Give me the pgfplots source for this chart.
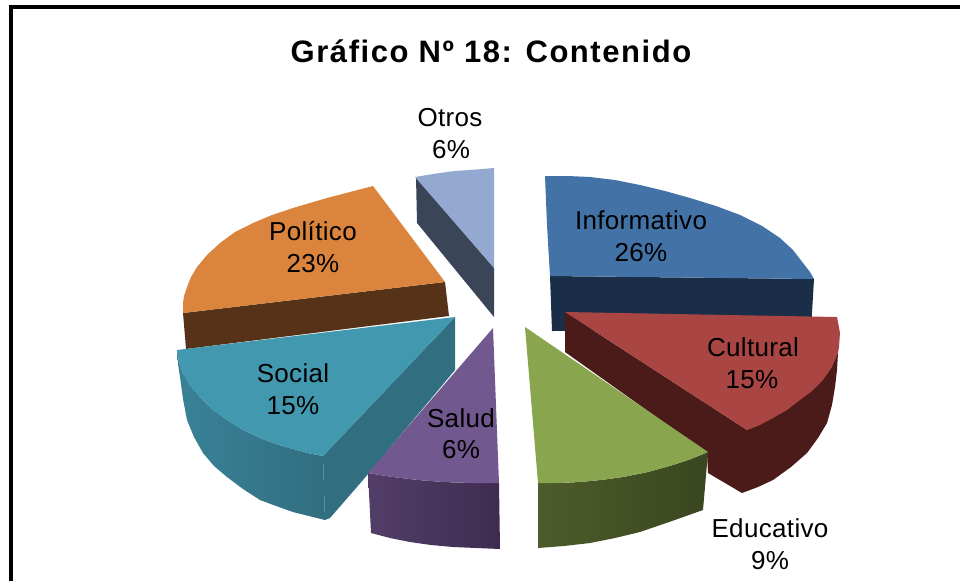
\documentclass[border=0pt]{standalone}
\usepackage{pgfplots}
\pgfplotsset{compat=1.18}
\usepackage{fontspec}
\setmainfont{Liberation Sans}
\newfontfamily\titlef[LetterSpace=5]{Liberation Sans}
\newfontfamily\labf[LetterSpace=1.3]{Liberation Sans}
\definecolor{infT}{HTML}{4272A6}\definecolor{infS}{HTML}{1B2E47}
\definecolor{culT}{HTML}{A94543}\definecolor{culS}{HTML}{4A1B19}
\definecolor{eduT}{HTML}{89A54E}\definecolor{eduL}{HTML}{4D5C2B}\definecolor{eduS}{HTML}{3A4620}
\definecolor{salT}{HTML}{71588F}\definecolor{salL}{HTML}{523E68}\definecolor{salS}{HTML}{3E2C50}
\definecolor{socT}{HTML}{4198AF}\definecolor{socL}{HTML}{3A8297}\definecolor{socS}{HTML}{316E80}
\definecolor{polT}{HTML}{DB843D}\definecolor{polS}{HTML}{563318}
\definecolor{otrT}{HTML}{93A9CF}\definecolor{otrS}{HTML}{3A4557}
\newcommand{\lab}{\labf\fontsize{26}{30}\selectfont}
\tikzset{lbl/.style={anchor=base,inner sep=0pt,text=black}}
\begin{document}
\begin{tikzpicture}
\useasboundingbox (0,0) rectangle (960pt,581pt);
\begin{axis}[
  at={(0,0)},anchor=south west,
  width=960pt,height=581pt,scale only axis,
  xmin=0,xmax=960,ymin=0,ymax=581,y dir=reverse,
  hide axis,
  every axis plot/.append style={draw=none,line width=0pt},
]
% Informativo
\addplot[fill=infS] coordinates {(550,276)(814,279)(811,330)(552,331)(550,276)};
\addplot[fill=infT] coordinates {(545,176)(568,176)(590,177)(615,180)(640,185)(665,191)(690,198)(716,206)(740,215)(762,226)(780,238)(793,250)(803,263)(810,272)(814,279)(550,276)(547,225)(545,176)};
% Cultural
\addplot[fill=culS] coordinates {(565,312)(565,352)(707,453)(708,473)(742,493)(758,487)(773,480)(791,467)(807,453)(818,438)(827,423)(832,405)(835,387)(837,370)(838,353)(747,430)(565,312)};
\addplot[fill=culT] coordinates {(565,312)(837,317)(840,333)(839,347)(838,353)(832,367)(823,380)(812,391)(800,400)(787,410)(773,418)(760,425)(747,430)(565,312)};
% Educativo
\addplot[left color=eduL,right color=eduS] coordinates {(538,483)(538,548)(564,546)(590,543)(615,538)(640,532)(672,521)(703,510)(708,452)(691,459)(673,465)(648,472)(623,477)(601,480)(580,482)(559,483)(538,483)};
\addplot[fill=eduT] coordinates {(525,327)(708,452)(691,459)(673,465)(648,472)(623,477)(601,480)(580,482)(559,483)(538,483)(525,327)};
% Otros
\addplot[fill=otrS] coordinates {(416,177)(417,223)(494,317)(494,268)(416,177)};
\addplot[fill=otrT] coordinates {(415,177)(427,175)(440,173)(455,171)(470,170)(482,169)(494,168)(494,268)(415,177)};
% Politico
\addplot[fill=polS] coordinates {(183,313)(445,282)(449,316)(186,349)(183,313)};
\addplot[fill=polT] coordinates {(373,186)(350,192)(327,198)(310,203)(293,208)(272,215)(253,223)(235,232)(220,243)(207,255)(197,267)(191,277)(187,287)(184,296)(183,303)(183,313)(445,282)(373,186)};
% Social
\addplot[fill=socS] coordinates {(323,456)(325,520)(330,518)(363,480)(455,370)(455,317)(323,456)};
\addplot[left color=socL,right color=socS] coordinates {(177,350)(178,364)(180,377)(183,399)(187,420)(194,437)(203,453)(214,466)(227,477)(243,489)(260,500)(276,506)(293,512)(309,516)(325,520)(323,456)(308,453)(293,449)(276,444)(260,438)(243,430)(227,420)(212,409)(200,397)(190,385)(183,373)(179,362)(177,350)};
\addplot[fill=socT] coordinates {(177,350)(455,317)(323,456)(308,453)(293,449)(276,444)(260,438)(243,430)(227,420)(212,409)(200,397)(190,385)(183,373)(179,362)(177,350)};
% Salud
\addplot[left color=salL,right color=salS] coordinates {(368,473)(371,533)(390,538)(410,542)(431,545)(453,547)(476,548)(500,549)(499,483)(471,483)(443,482)(418,480)(393,477)(380,475)(368,473)};
\addplot[fill=salT] coordinates {(493,328)(368,473)(380,475)(393,477)(418,480)(443,482)(471,483)(499,483)(493,328)};
% Frame
\addplot[draw=black,line width=4pt] coordinates {(11,581)(11,7)(960,7)};
% Text
\node[lbl,font=\titlef\fontsize{31}{34}\selectfont\bfseries] at (axis cs:491,62) {Gráfico Nº 18: Contenido};
\node[lbl,font=\lab] at (axis cs:450,126) {Otros};
\node[lbl,font=\lab] at (axis cs:451,158) {6\%};
\node[lbl,font=\lab] at (axis cs:641,229) {Informativo};
\node[lbl,font=\lab] at (axis cs:641,261) {26\%};
\node[lbl,font=\lab] at (axis cs:753,356) {Cultural};
\node[lbl,font=\lab] at (axis cs:752,388) {15\%};
\node[lbl,font=\lab] at (axis cs:313,240) {Político};
\node[lbl,font=\lab] at (axis cs:313,272) {23\%};
\node[lbl,font=\lab] at (axis cs:293,382) {Social};
\node[lbl,font=\lab] at (axis cs:293,414) {15\%};
\node[lbl,font=\lab] at (axis cs:461,427) {Salud};
\node[lbl,font=\lab] at (axis cs:461,458) {6\%};
\node[lbl,font=\lab] at (axis cs:770,537) {Educativo};
\node[lbl,font=\lab] at (axis cs:770,569) {9\%};
\end{axis}
\end{tikzpicture}
\end{document}
